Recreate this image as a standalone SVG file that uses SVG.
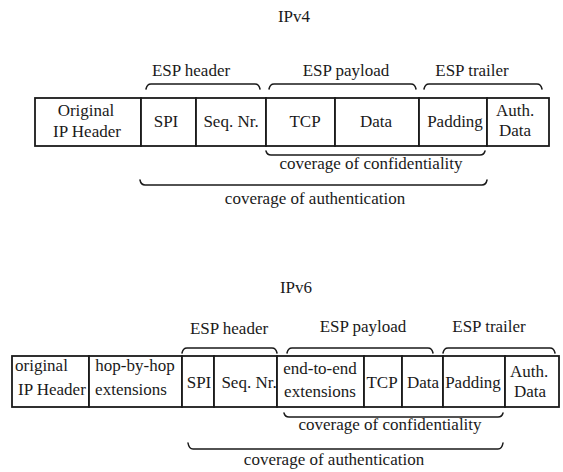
<svg xmlns="http://www.w3.org/2000/svg" width="563" height="472" viewBox="0 0 563 472">
  <style>
    text { font-family: "Liberation Serif", "Times New Roman", serif; font-size: 17px; fill: #1a1a1a; }
    .c { text-anchor: middle; }
    .cell { fill: #ffffff; stroke: #1a1a1a; stroke-width: 1.8; }
    .brace { fill: none; stroke: #1a1a1a; stroke-width: 1.5; stroke-linecap: round; }
  </style>
  <rect width="563" height="472" fill="#ffffff"/>

  <!-- ===== IPv4 ===== -->
  <text id="title-ipv4" class="c" x="294" y="22">IPv4</text>

  <g id="v4-labels">
    <text class="c" x="191" y="76">ESP header</text>
    <text class="c" x="346" y="76">ESP payload</text>
    <text class="c" x="472" y="76">ESP trailer</text>
  </g>

  <g id="v4-packet">
    <g id="v4-orig-ip"><rect class="cell" x="35" y="98" width="106" height="48"/>
      <text class="c" x="86" y="116">Original</text><text class="c" x="87" y="137">IP Header</text></g>
    <g id="v4-spi"><rect class="cell" x="141" y="98" width="55" height="48"/>
      <text class="c" x="166" y="127">SPI</text></g>
    <g id="v4-seq"><rect class="cell" x="196" y="98" width="70" height="48"/>
      <text class="c" x="231" y="127">Seq. Nr.</text></g>
    <g id="v4-tcp"><rect class="cell" x="266" y="98" width="69" height="48"/>
      <text class="c" x="305" y="127">TCP</text></g>
    <g id="v4-data"><rect class="cell" x="335" y="98" width="84" height="48"/>
      <text class="c" x="376" y="127">Data</text></g>
    <g id="v4-padding"><rect class="cell" x="419" y="98" width="68" height="48"/>
      <text class="c" x="455" y="127">Padding</text></g>
    <g id="v4-auth"><rect class="cell" x="487" y="98" width="62" height="48"/>
      <text class="c" x="515" y="116">Auth.</text><text class="c" x="515" y="136">Data</text></g>
  </g>

  <g id="v4-connectors">
    <path class="brace" d="M146,89 Q147,84 151,84 H255 Q259,84 260,89"/>
    <path class="brace" d="M269,89 Q270,84 274,84 H411 Q415,84 416,89"/>
    <path class="brace" d="M424,89 Q425,84 429,84 H537 Q541,84 542,89"/>
    <path class="brace" d="M266,151 Q267,155 271,155 H480 Q484,155 485,151"/>
    <path class="brace" d="M140,180 Q141,185 145,185 H482 Q486,185 487,180"/>
  </g>

  <g id="v4-coverage">
    <text class="c" x="371" y="169">coverage of confidentiality</text>
    <text class="c" x="315" y="204">coverage of authentication</text>
  </g>

  <!-- ===== IPv6 ===== -->
  <text id="title-ipv6" class="c" x="296" y="293">IPv6</text>

  <g id="v6-labels">
    <text class="c" x="229" y="334">ESP header</text>
    <text class="c" x="363" y="332">ESP payload</text>
    <text class="c" x="489" y="332">ESP trailer</text>
  </g>

  <g id="v6-packet">
    <g id="v6-orig-ip"><rect class="cell" x="12" y="356" width="77" height="51"/>
      <text x="15" y="371">original</text><text x="18" y="395">IP Header</text></g>
    <g id="v6-hop"><rect class="cell" x="89" y="356" width="93" height="51"/>
      <text class="c" x="135" y="371">hop-by-hop</text><text class="c" x="131" y="395">extensions</text></g>
    <g id="v6-spi"><rect class="cell" x="182" y="356" width="32" height="51"/>
      <text class="c" x="199" y="388">SPI</text></g>
    <g id="v6-seq"><rect class="cell" x="214" y="356" width="63" height="51"/>
      <text class="c" x="249" y="388">Seq. Nr.</text></g>
    <g id="v6-e2e"><rect class="cell" x="277" y="356" width="87" height="51"/>
      <text class="c" x="320" y="374">end-to-end</text><text class="c" x="320" y="397">extensions</text></g>
    <g id="v6-tcp"><rect class="cell" x="364" y="356" width="38" height="51"/>
      <text class="c" x="382" y="388">TCP</text></g>
    <g id="v6-data"><rect class="cell" x="402" y="356" width="41" height="51"/>
      <text class="c" x="423" y="388">Data</text></g>
    <g id="v6-padding"><rect class="cell" x="443" y="356" width="62" height="51"/>
      <text class="c" x="473" y="388">Padding</text></g>
    <g id="v6-auth"><rect class="cell" x="505" y="356" width="54" height="51"/>
      <text class="c" x="529" y="377">Auth.</text><text class="c" x="530" y="397">Data</text></g>
  </g>

  <g id="v6-connectors">
    <path class="brace" d="M182,353 Q183,348 187,348 H272 Q276,348 277,353"/>
    <path class="brace" d="M287,353 Q288,348 292,348 H428 Q432,348 433,353"/>
    <path class="brace" d="M443,353 Q444,348 448,348 H550 Q554,348 555,353"/>
    <path class="brace" d="M284,413 Q285,417 289,417 H498 Q502,417 503,413"/>
    <path class="brace" d="M188,443 Q189,449 193,449 H498 Q502,449 503,443"/>
  </g>

  <g id="v6-coverage">
    <text class="c" x="390" y="430">coverage of confidentiality</text>
    <text class="c" x="334" y="465">coverage of authentication</text>
  </g>
</svg>
